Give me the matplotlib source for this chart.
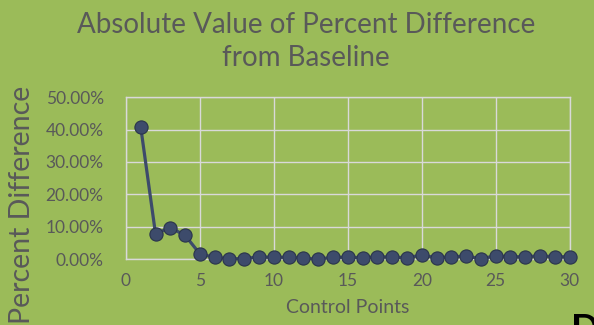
import matplotlib
matplotlib.use('Agg')
import matplotlib.pyplot as plt
from matplotlib.ticker import PercentFormatter

# absolute percent difference from baseline at each control point
control_points = list(range(1, 31))
pct_diff = [40.8, 7.8, 9.7, 7.3, 1.6, 0.5, 0.1, 0.1, 0.7, 0.5,
            0.6, 0.2, 0.0, 0.5, 0.6, 0.4, 0.7, 0.6, 0.4, 1.2,
            0.4, 0.7, 0.9, 0.1, 1.0, 0.7, 0.7, 1.0, 0.7, 0.7]

bg = '#9BBB59'
text_grey = '#595959'
grid_col = '#D9D9D9'

plt.rcParams['font.family'] = ['Lato', 'DejaVu Sans']

fig = plt.figure(figsize=(5.94, 3.25), dpi=100, facecolor=bg)
ax = fig.add_axes([0.212, 0.203, 0.747, 0.498], facecolor=bg)

ax.plot(control_points, pct_diff, color='#3D4B6B', lw=2.3, marker='o',
        markersize=9.5, markerfacecolor='#3D4B6B', markeredgecolor='#2A344C',
        markeredgewidth=0.8, zorder=3, clip_on=False)

ax.set_xlim(0, 30)
ax.set_ylim(0, 50)
ax.set_xticks(range(0, 31, 5))
ax.set_yticks(range(0, 51, 10))
ax.yaxis.set_major_formatter(PercentFormatter(decimals=2))
ax.grid(True, color=grid_col, lw=1.0)
ax.set_axisbelow(True)
for side in ax.spines.values():
    side.set_color(grid_col)
    side.set_linewidth(1.0)
ax.tick_params(length=0, labelsize=12.5, labelcolor=text_grey)
ax.tick_params(axis='x', pad=10)
ax.tick_params(axis='y', pad=16)

ax.set_xlabel('Control Points', fontsize=14, color=text_grey, labelpad=7)

fig.text(0.515, 0.872, 'Absolute Value of Percent Difference\nfrom Baseline',
         ha='center', va='center', fontsize=20, color=text_grey, linespacing=1.32)
fig.text(0.037, 0.735, 'Percent Difference', rotation=90, ha='center', va='top',
         fontsize=20.5, color=text_grey)
fig.text(0.962, -0.07, 'D', ha='left', va='bottom', fontsize=27,
         color='black', fontweight='bold')

fig.savefig('out.png', dpi=100, facecolor=bg)
